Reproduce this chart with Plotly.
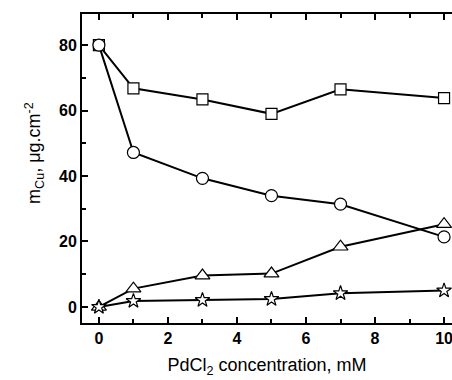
import plotly.graph_objects as go

conc = [0, 1, 3, 5, 7, 10]
squares = [80, 66.8, 63.4, 59.0, 66.5, 63.8]
circles = [80, 47.2, 39.3, 34.0, 31.4, 21.4]
triangles = [0, 5.6, 9.6, 10.2, 18.4, 25.3]
stars = [0, 1.8, 2.1, 2.4, 4.2, 5.0]

x_ticks = list(range(0, 11, 2))
y_ticks = [0, 20, 40, 60, 80]

FONT = "Arial, Liberation Sans, Helvetica, sans-serif"

fig = go.Figure()
for vals, sym, sz in [(squares, "square", 11), (circles, "circle", 12),
                      (triangles, "triangle-up", 13), (stars, "star", 11)]:
    fig.add_trace(go.Scatter(
        x=conc, y=vals, mode="lines+markers",
        line=dict(color="black", width=2),
        marker=dict(symbol=sym, size=sz, color="white",
                    line=dict(color="black", width=1.2)),
        showlegend=False, cliponaxis=False))

fig.update_layout(
    width=452, height=380,
    margin=dict(l=82, r=0, t=14, b=57),
    paper_bgcolor="white", plot_bgcolor="white",
    font=dict(family=FONT, color="black"),
    annotations=[dict(
        text="m<sub>Cu</sub>, μg.cm<sup>-2</sup>", textangle=-90,
        xref="paper", yref="paper", x=-0.13, y=0.55,
        xanchor="center", yanchor="middle", showarrow=False,
        font=dict(size=18, family=FONT))],
)
fig.update_xaxes(
    range=[-0.49, 10.23], tickvals=x_ticks,
    ticktext=[f"<b>{v}</b>" for v in x_ticks],
    ticklabeloverflow="allow",
    ticks="inside", ticklen=6, tickwidth=2, tickcolor="black",
    minor=dict(dtick=1, tick0=0, ticks="inside", ticklen=4, tickwidth=2, tickcolor="black"),
    showline=True, linecolor="black", linewidth=2, mirror="ticks",
    showgrid=False, zeroline=False,
    tickfont=dict(size=16, family=FONT),
    title=dict(text="PdCl<sub>2</sub> concentration, mM", font=dict(size=18, family=FONT), standoff=12),
)
fig.update_yaxes(
    range=[-4.9, 89.5], tickvals=y_ticks,
    ticktext=[f"<b>{v}</b>" for v in y_ticks],
    ticks="inside", ticklen=6, tickwidth=2, tickcolor="black",
    minor=dict(dtick=10, tick0=0, ticks="inside", ticklen=4, tickwidth=2, tickcolor="black"),
    showline=True, linecolor="black", linewidth=2, mirror=False,
    showgrid=False, zeroline=False,
    tickfont=dict(size=16, family=FONT),
)
fig.write_html("out.html")
